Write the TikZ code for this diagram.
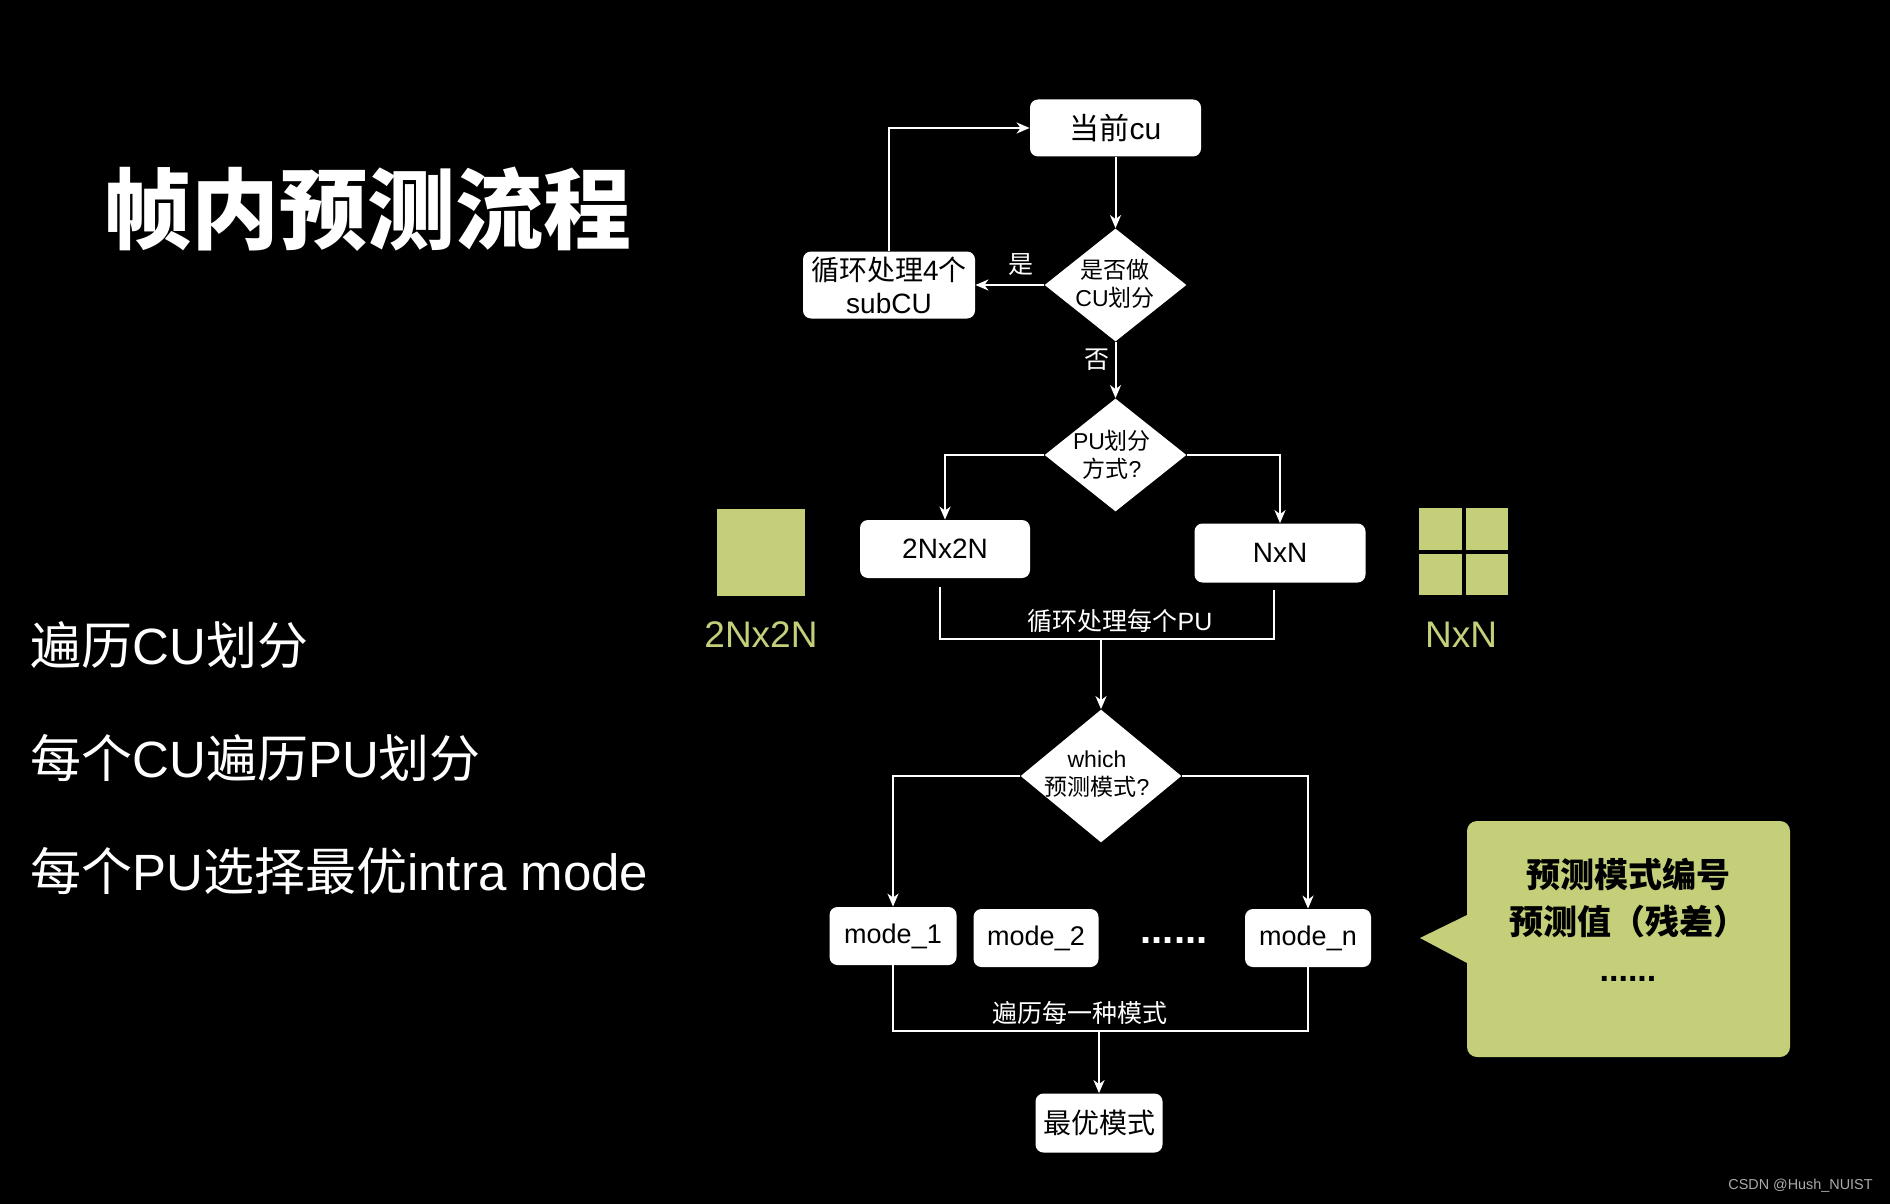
\documentclass[tikz,border=0pt]{standalone}
\usepackage{fontspec}
\setmainfont{Liberation Sans}
\newfontfamily\cjk{Noto Sans CJK SC}
\usetikzlibrary{shapes.geometric,arrows.meta,calc}
\newcommand\zhs[1]{{\cjk #1}}
\definecolor{lime}{RGB}{197,207,122}
\definecolor{wm}{RGB}{170,170,170}
\begin{document}
\begin{tikzpicture}[x=0.5pt,y=-0.5pt,
  box/.style={fill=white, rounded corners=4pt, inner sep=0pt, text=black, font=\fontsize{14}{16.5}\selectfont},
  dia/.style={diamond, fill=white, inner sep=0pt, minimum width=71pt, minimum height=56.5pt},
  dtext/.style={text=black, align=center, inner sep=0pt, font=\fontsize{11.5}{14}\selectfont},
  arr/.style={draw=white, line width=1pt, -{Stealth[length=6.5pt,width=5.5pt,inset=2pt]}},
  ln/.style={draw=white, line width=1pt},
  lbl/.style={text=white, inner sep=0pt, font=\fontsize{12.5}{15}\selectfont},
  side/.style={text=white, anchor=west, inner sep=0pt, font=\fontsize{25.5}{30}\selectfont},
]
\fill[black] (0,0) rectangle (1890,1204);
\useasboundingbox (0,0) rectangle (1890,1204);

% title and left list
\node[text=white, inner sep=0pt, font=\fontsize{44}{50}\selectfont\bfseries] (title) at (367,209) {\zhs{帧内预测流程}};
\node[side] (l1) at (30,645) {\zhs{遍历}CU\zhs{划分}};
\node[side] (l2) at (30,758) {\zhs{每个}CU\zhs{遍历}PU\zhs{划分}};
\node[side] (l3) at (30,871) {\zhs{每个}PU\zhs{选择最优}intra mode};

% flow nodes
\node[box, minimum width=85.5pt, minimum height=28.5pt, font=\fontsize{15}{18}\selectfont] (cur) at (1115.5,128) {\zhs{当前}cu};
\node[dia] (d1) at (1115.5,285) {};
\node[dtext] (d1t) at (1115,284) {\zhs{是否做}\\CU\zhs{划分}};
\node[box, minimum width=86pt, minimum height=33.5pt, align=center] (sub) at (889,285) {\zhs{循环处理}4\zhs{个}\\subCU};
\node[lbl] (yes) at (1021,265) {\zhs{是}};
\node[lbl] (no) at (1097,360) {\zhs{否}};

\node[dia] (pu) at (1115.5,455) {};
\node[dtext] (put) at (1112,455) {PU\zhs{划分}\\\zhs{方式}?};
\node[box, minimum width=85pt, minimum height=29pt] (b2n) at (945,549) {2Nx2N};
\node[box, minimum width=85.5pt, minimum height=29.5pt] (bnn) at (1280,553) {NxN};
\coordinate (j1) at (1101,639);
\node[lbl] (loop1) at (1120,621) {\zhs{循环处理每个}PU};

\node[diamond, fill=white, inner sep=0pt, minimum width=80.5pt, minimum height=66.5pt] (wh) at (1101,776) {};
\node[dtext] (wht) at (1097,774) {which\\\zhs{预测模式}?};
\node[box, minimum width=63.5pt, minimum height=29pt, font=\fontsize{13.5}{16}\selectfont] (m1) at (893,936) {mode\_1};
\node[box, minimum width=62.5pt, minimum height=29pt, font=\fontsize{13.5}{16}\selectfont] (m2) at (1036,938) {mode\_2};
\node[text=white, inner sep=0pt, font=\fontsize{20}{22}\selectfont\bfseries] (dots) at (1174,941) {......};
\node[box, minimum width=63pt, minimum height=29pt, font=\fontsize{13.5}{16}\selectfont] (mn) at (1308,938) {mode\_n};
\coordinate (j2) at (1099,1031);
\node[lbl] (loop2) at (1080,1013) {\zhs{遍历每一种模式}};
\node[box, minimum width=63.5pt, minimum height=29.5pt] (best) at (1099,1123) {\zhs{最优模式}};

% connectors
\draw[arr] (cur.south) -- (d1.north);
\draw[arr] (d1.west) -- (sub.east);
\draw[arr] (sub.north) |- (cur.west);
\draw[arr] (d1.south) -- (pu.north);
\draw[arr] (pu.west) -| (b2n.north);
\draw[arr] (pu.east) -| (bnn.north);
\draw[ln] ([xshift=-2.5pt,yshift=-4.5pt]b2n.south) |- (j1) -| ([xshift=-3pt,yshift=-3.5pt]bnn.south);
\draw[arr] (j1) -- (wh.north);
\draw[arr] (wh.west) -| (m1.north);
\draw[arr] (wh.east) -| (mn.north);
\draw[ln] (m1.south) |- (j2) -| (mn.south);
\draw[arr] (j2) -- (best.north);

% green partition icons
\node[fill=lime, inner sep=0pt, minimum width=44pt, minimum height=43.5pt] (sq1) at (761,552) {};
\node[text=lime, inner sep=0pt, font=\fontsize{18.5}{22}\selectfont] (sq1t) at (761,635) {2Nx2N};
\node[fill=lime, inner sep=0pt, minimum width=44.5pt, minimum height=43.5pt] (sq2) at (1463.5,551.5) {};
\draw[black, line width=2pt] (sq2.north) -- (sq2.south);
\draw[black, line width=2pt] (sq2.west) -- (sq2.east);
\node[text=lime, inner sep=0pt, font=\fontsize{18.5}{22}\selectfont] (sq2t) at (1461,635) {NxN};

% callout
\fill[lime] (1420,938) -- (1467,963) [rounded corners=5pt] -- (1467,1057) -- (1790,1057) -- (1790,821) -- (1467,821) [sharp corners] -- (1467,915) -- cycle;
\node[text=black, align=center, inner sep=0pt, font=\fontsize{17}{23.5}\selectfont\bfseries] (callt) at (1628,920)
  {\zhs{预测模式编号}\\\zhs{预测值（残差）}\\......};

% watermark
\node[text=wm, anchor=east, inner sep=0pt, font=\fontsize{7.2}{9}\selectfont] (wmk) at (1873,1186) {CSDN @Hush\_NUIST};
\end{tikzpicture}
\end{document}
